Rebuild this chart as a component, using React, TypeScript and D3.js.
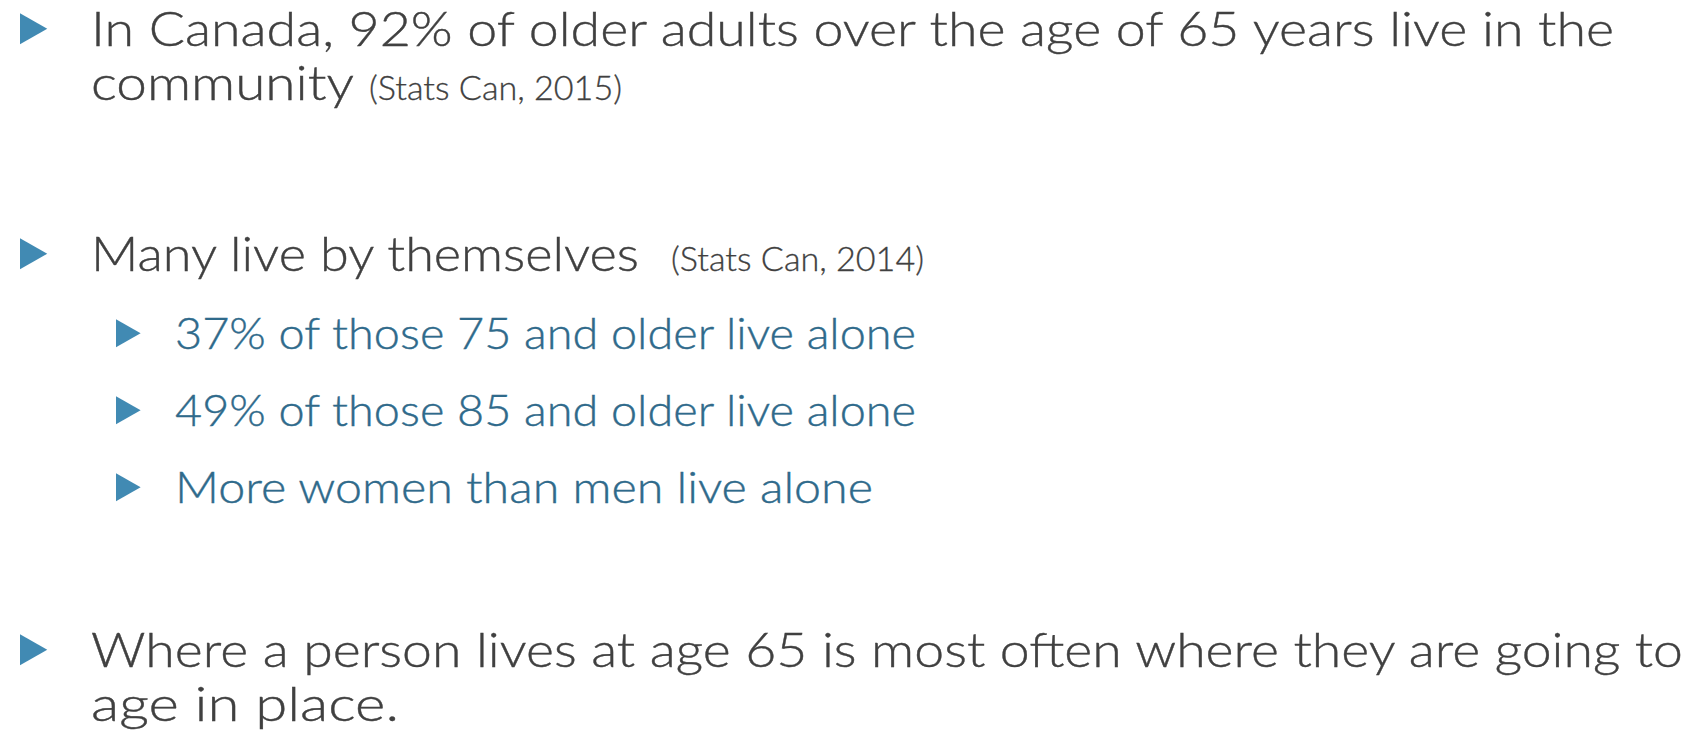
import React from "react";
import * as d3 from "d3";

// ---- Data ----
const bulletLevels = [1, 1, 2, 2, 2, 1];
const bulletTexts = [
  ["In Canada, 92% of older adults over the age of 65 years live in the", "community"],
  ["Many live by themselves"],
  ["37% of those 75 and older live alone"],
  ["49% of those 85 and older live alone"],
  ["More women than men live alone"],
  ["Where a person lives at age 65 is most often where they are going to", "age in place."],
];
const citations = ["(Stats Can, 2015)", "(Stats Can, 2014)", "", "", "", ""];

// ---- Layout (not data) ----
const W = 1691;
const H = 731;
const firstBaselines = [46, 271, 349, 426, 503, 667];
const lineGap = 54;
const mainWidths: number[][] = [[1523, 263], [548], [741], [741], [698], [1592, 308]];
const citeX = [369, 671];
const citeWidths = [253, 253];

const FONT = "'Lato', 'Open Sans', 'DejaVu Sans', sans-serif";
const GRAY = "#404040";
const BLUE_TEXT = "#2F6A8B";
const BULLET = "#418AB3";

export default function App() {
  const xIndent = d3.scaleOrdinal<number, number>().domain([1, 2]).range([91, 175]);
  const xBullet = d3.scaleOrdinal<number, number>().domain([1, 2]).range([20, 116]);
  const fontSize = d3.scaleOrdinal<number, number>().domain([1, 2]).range([48, 44]);
  const triSize = d3.scaleOrdinal<number, number>().domain([1, 2]).range([31, 28]);

  return (
    <svg width={W} height={H} style={{ position: "absolute", left: 0, top: 0, background: "#fff" }}>
      {bulletTexts.map((lines, i) => {
        const lvl = bulletLevels[i];
        const fs = fontSize(lvl);
        const base = firstBaselines[i];
        const th = triSize(lvl);
        const tw = th * 0.88;
        const bx = xBullet(lvl);
        const cy = base - fs * 0.36;
        const tri = d3.line()([
          [bx, cy - th / 2],
          [bx + tw, cy],
          [bx, cy + th / 2],
        ]) + "Z";
        const color = lvl === 1 ? GRAY : BLUE_TEXT;
        return (
          <g key={i}>
            <path d={tri} fill={BULLET} />
            {lines.map((ln, j) => (
              <text
                key={j}
                x={xIndent(lvl)}
                y={base + j * lineGap}
                fontFamily={FONT}
                fontWeight={300}
                fontSize={fs}
                fill={color}
                stroke={color}
                strokeWidth={0.4}
                textLength={mainWidths[i][j]}
                lengthAdjust="spacingAndGlyphs"
              >
                {ln}
              </text>
            ))}
            {citations[i] && (
              <text
                x={citeX[i]}
                y={base + (lines.length - 1) * lineGap}
                fontFamily={FONT}
                fontWeight={300}
                fontSize={33}
                fill={color}
                stroke={color}
                strokeWidth={0.3}
                textLength={citeWidths[i]}
                lengthAdjust="spacingAndGlyphs"
              >
                {citations[i]}
              </text>
            )}
          </g>
        );
      })}
    </svg>
  );
}
